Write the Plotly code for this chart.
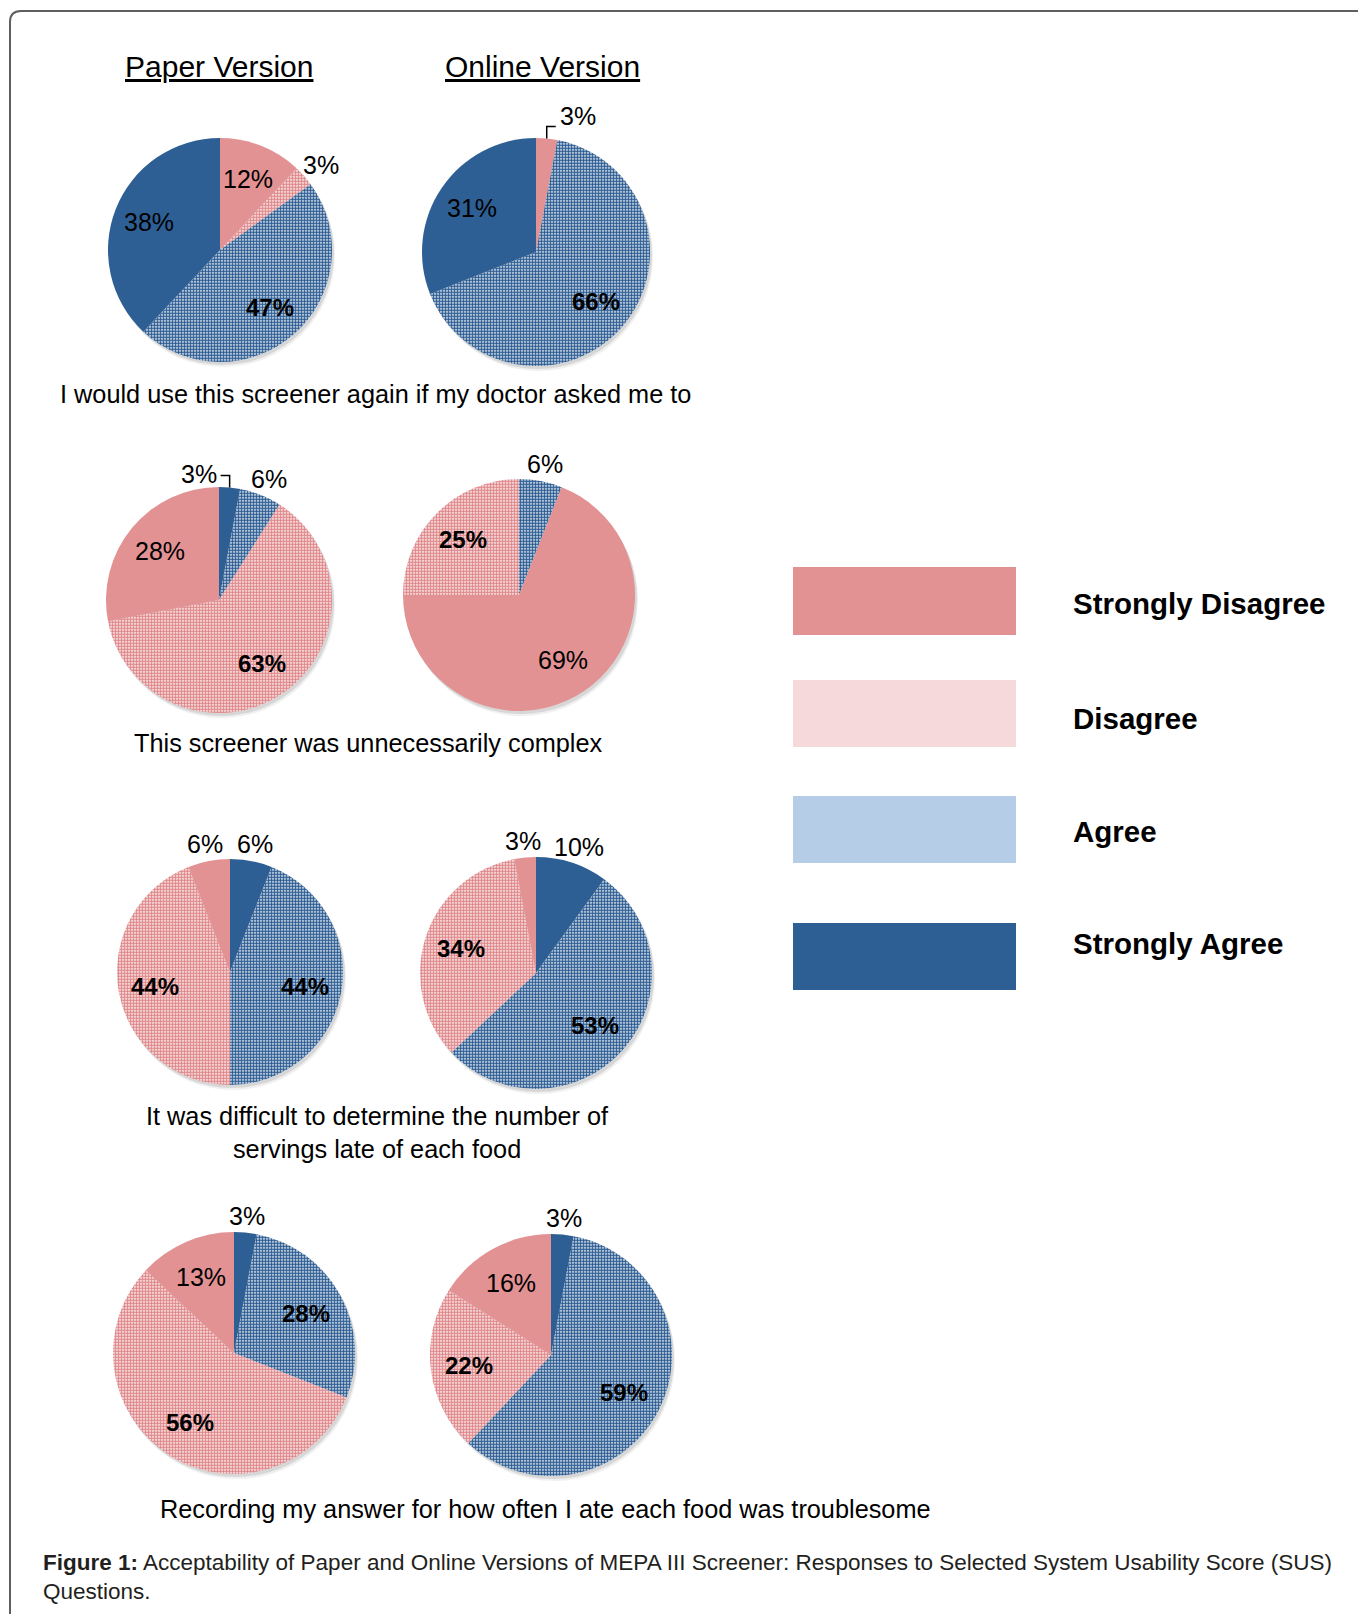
import math
import plotly.graph_objects as go

W, H = 1358, 1614

# ---------------- data ----------------
categories = ["Strongly Disagree", "Disagree", "Agree", "Strongly Agree"]
versions = ["Paper Version", "Online Version"]
questions = [
    "I would use this screener again if my doctor asked me to",
    "This screener was unnecessarily complex",
    "It was difficult to determine the number of<br>servings late of each food",
    "Recording my answer for how often I ate each food was troublesome",
]
# percentages in category order: SD, D, A, SA
paper_pct = [[12, 3, 47, 38], [28, 63, 6, 3], [6, 44, 44, 6], [13, 56, 28, 3]]
online_pct = [[3, 0, 66, 31], [69, 25, 6, 0], [3, 34, 53, 10], [16, 22, 59, 3]]
# clockwise slice order starting at 12 o'clock
ORD_A = ["Strongly Disagree", "Disagree", "Agree", "Strongly Agree"]
ORD_B = ["Strongly Agree", "Agree", "Disagree", "Strongly Disagree"]
ORD_C = ["Strongly Agree", "Agree", "Strongly Disagree", "Disagree"]
paper_order = [ORD_A, ORD_B, ORD_B, ORD_B]
online_order = [ORD_A, ORD_C, ORD_B, ORD_B]
caption_bold = "Figure 1:"
caption_line1 = " Acceptability of Paper and Online Versions of MEPA III Screener: Responses to Selected System Usability Score (SUS)"
caption_line2 = "Questions."

# ---------------- styles / layout ----------------
colors = {"Strongly Disagree": "#E39294", "Disagree": "#F6D9DB",
          "Agree": "#B5CDE6", "Strongly Agree": "#2E5F94"}
patterned = {"Disagree": "#E0878A", "Agree": "#2C5C93"}
FONT = "Liberation Sans, Arial, sans-serif"

# pie centre / radius in pixels, [question][version]
pie_geom = [
    [(220, 250, 112), (536, 252, 114)],
    [(219, 600, 113), (519, 595, 116)],
    [(230, 972, 113), (536, 973, 116)],
    [(234, 1353, 121), (551, 1355, 121)],
]
question_pos = [(375, 394), (368, 743), (377, 1132), (545, 1509)]
title_pos = [(219, 66), (542, 66)]
legend_x = (793, 1016)
legend_boxes_y = [(567, 635), (680, 747), (796, 863), (923, 990)]
legend_text_x = 1071
legend_text_y = [604, 718, 831, 943]
# labels with small leader lines: (question, version, category) -> (side, dy)
leaders = {(0, 1, "Strongly Disagree"): ("right", -11),
           (1, 0, "Strongly Agree"): ("left", -2)}


def px(x):
    return x / W


def py(y):
    return 1 - y / H


fig = go.Figure()
annotations = []
shapes = []

for qi in range(4):
    for vi in range(2):
        pct = paper_pct[qi] if vi == 0 else online_pct[qi]
        order = paper_order[qi] if vi == 0 else online_order[qi]
        labels = [c for c in order if pct[categories.index(c)] > 0]
        values = [pct[categories.index(c)] for c in labels]
        cx, cy, r = pie_geom[qi][vi]

        # soft shadow
        for sdx, sdy, alpha in [(3, 5, 0.06), (2, 3, 0.10)]:
            fig.add_trace(go.Pie(
                values=[1], labels=["shadow"], sort=False, textinfo="none",
                hoverinfo="skip", showlegend=False,
                marker=dict(colors=[f"rgba(0,0,0,{alpha})"], line=dict(width=0)),
                domain=dict(x=[px(cx - r + sdx), px(cx + r + sdx)],
                            y=[py(cy + r + sdy), py(cy - r + sdy)])))

        fig.add_trace(go.Pie(
            labels=labels, values=values, sort=False, direction="clockwise",
            rotation=0, textinfo="none", showlegend=False,
            name=f"{versions[vi]} - Q{qi+1}",
            marker=dict(
                colors=[colors[c] for c in labels],
                line=dict(width=0),
                pattern=dict(
                    shape=["." if c in patterned else "" for c in labels],
                    fgcolor=[patterned.get(c, colors[c]) for c in labels],
                    bgcolor=["white" if c in patterned else colors[c] for c in labels],
                    size=3, solidity=0.7, fillmode="replace")),
            domain=dict(x=[px(cx - r), px(cx + r)], y=[py(cy + r), py(cy - r)])))

        cum = 0.0
        for c, v in zip(labels, values):
            mid = (cum + v / 2) / 100 * 2 * math.pi
            cum += v
            ux, uy = math.sin(mid), -math.cos(mid)
            key = (qi, vi, c)
            if key in leaders:
                side, dy = leaders[key]
                ex, ey = cx + r * ux, cy + r * uy
                kx, ky = ex, ey - 12
                sx = kx + (9 if side == "right" else -9)
                shapes.append(dict(
                    type="path", xref="paper", yref="paper",
                    path=f"M {px(ex)},{py(ey)} L {px(kx)},{py(ky)} L {px(sx)},{py(ky)}",
                    line=dict(color="black", width=1.5)))
                annotations.append(dict(
                    x=px(sx + (2 if side == "right" else -2)), y=py(ky + dy),
                    xref="paper", yref="paper", text=f"{v}%", showarrow=False,
                    xanchor="left" if side == "right" else "right", yanchor="middle",
                    font=dict(family=FONT, size=25, color="black")))
                continue
            if v > 10:
                x, y = cx + 0.68 * r * ux, cy + 0.68 * r * uy
                bold = c in patterned
            else:
                g, hw, hh = 5, 17, 12
                x = cx + (r + g) * ux + hw * ux
                y = cy + (r + g) * uy + hh * uy
                bold = False
            annotations.append(dict(
                x=px(x), y=py(y), xref="paper", yref="paper",
                text=(f"<b>{v}%</b>" if bold else f"{v}%"), showarrow=False,
                xanchor="center", yanchor="middle",
                font=dict(family=FONT, size=24 if bold else 25, color="black")))

# version titles
for (tx, ty), t in zip(title_pos, versions):
    annotations.append(dict(x=px(tx), y=py(ty), xref="paper", yref="paper",
                            text=f"<u>{t}</u>", showarrow=False,
                            xanchor="center", yanchor="middle",
                            font=dict(family=FONT, size=30, color="black")))

# question captions
for (qx, qy), q in zip(question_pos, questions):
    annotations.append(dict(x=px(qx), y=py(qy), xref="paper", yref="paper",
                            text=q, showarrow=False, xanchor="center",
                            yanchor="middle", align="center",
                            font=dict(family=FONT, size=25.3, color="black")))

# legend
for (y0, y1), ty, c in zip(legend_boxes_y, legend_text_y, categories):
    shapes.append(dict(type="rect", xref="paper", yref="paper",
                       x0=px(legend_x[0]), x1=px(legend_x[1]), y0=py(y1), y1=py(y0),
                       fillcolor=colors[c], line=dict(width=0)))
    annotations.append(dict(x=px(legend_text_x), y=py(ty), xref="paper", yref="paper",
                            text=f"<b>{c}</b>", showarrow=False,
                            xanchor="left", yanchor="middle",
                            font=dict(family=FONT, size=29.5, color="black")))

# figure caption
annotations.append(dict(x=px(41), y=py(1562), xref="paper", yref="paper",
                        text=f"<b>{caption_bold}</b>{caption_line1}", showarrow=False,
                        xanchor="left", yanchor="middle",
                        font=dict(family=FONT, size=22.5, color="#231F20")))
annotations.append(dict(x=px(41), y=py(1591), xref="paper", yref="paper",
                        text=caption_line2, showarrow=False,
                        xanchor="left", yanchor="middle",
                        font=dict(family=FONT, size=22.5, color="#231F20")))

# frame
shapes.append(dict(type="path", xref="paper", yref="paper",
                   path=(f"M {px(1370)},{py(11)} L {px(21)},{py(11)} "
                         f"Q {px(10)},{py(11)} {px(10)},{py(22)} L {px(10)},{py(1630)}"),
                   line=dict(color="#5f5f5f", width=2)))

fig.update_layout(width=W, height=H, margin=dict(l=0, r=0, t=0, b=0),
                  paper_bgcolor="white", plot_bgcolor="white",
                  annotations=annotations, shapes=shapes, showlegend=False)

fig.write_html("out.html")
